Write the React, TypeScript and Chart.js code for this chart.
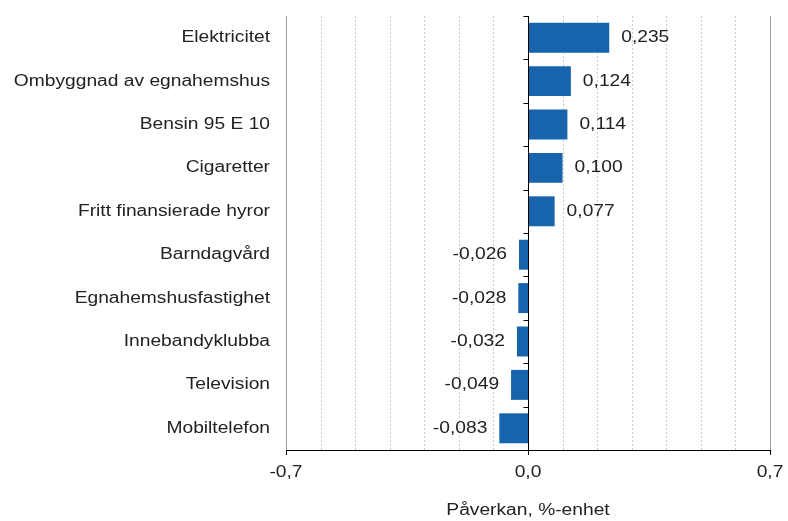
import React, { useEffect, useRef } from "react";
import { Chart, registerables } from "chart.js";

Chart.register(...registerables);

const categories = [
  "Elektricitet",
  "Ombyggnad av egnahemshus",
  "Bensin 95 E 10",
  "Cigaretter",
  "Fritt finansierade hyror",
  "Barndagvård",
  "Egnahemshusfastighet",
  "Innebandyklubba",
  "Television",
  "Mobiltelefon",
];
const values = [0.235, 0.124, 0.114, 0.1, 0.077, -0.026, -0.028, -0.032, -0.049, -0.083];
const axisMin = -0.7;
const axisMax = 0.7;
const axisStep = 0.1;
const labeledTicks = [-0.7, 0, 0.7];
const axisTitle = "Påverkan, %-enhet";

const FONT = "'Liberation Sans', Arial, sans-serif";
const TEXT = "#222222";
const BAR = "#1764ad";
const SX = 1.2; // horizontal text stretch, as in the reference

const fmt = (v: number, d: number) => v.toFixed(d).replace(".", ",").replace(/^-0,0+$/, "0,0");
const isLabeled = (v: number) => labeledTicks.some((t) => Math.abs(t - v) < 1e-9);

function stretchText(ctx: any) {
  if (ctx.__stretched) return;
  ctx.__stretched = true;
  const origFill = ctx.fillText.bind(ctx);
  const origMeasure = ctx.measureText.bind(ctx);
  ctx.fillText = function (text: string, x: number, y: number, maxWidth?: number) {
    ctx.save();
    ctx.translate(x, y);
    ctx.scale(SX, 1);
    if (maxWidth !== undefined) origFill(text, 0, 0, maxWidth / SX);
    else origFill(text, 0, 0);
    ctx.restore();
  };
  ctx.measureText = function (text: string) {
    const m = origMeasure(text);
    return {
      width: m.width * SX,
      actualBoundingBoxLeft: m.actualBoundingBoxLeft * SX,
      actualBoundingBoxRight: m.actualBoundingBoxRight * SX,
      actualBoundingBoxAscent: m.actualBoundingBoxAscent,
      actualBoundingBoxDescent: m.actualBoundingBoxDescent,
      fontBoundingBoxAscent: m.fontBoundingBoxAscent,
      fontBoundingBoxDescent: m.fontBoundingBoxDescent,
    };
  };
}

const zeroPad = (s: any) => {
  s.paddingLeft = 0;
  s.paddingRight = 0;
  s.paddingTop = 0;
  s.paddingBottom = 0;
};

const decor = {
  id: "decor",
  beforeDatasetsDraw(chart: any) {
    const { ctx, chartArea: a, scales } = chart;
    const x = scales.x;
    ctx.save();
    ctx.lineWidth = 1;
    x.ticks.forEach((t: any) => {
      const v = t.value;
      if (Math.abs(v) < 1e-9) return;
      const px = Math.round(x.getPixelForValue(v)) + 0.5;
      if (Math.abs(Math.abs(v) - axisMax) < 1e-9) {
        ctx.setLineDash([]);
        ctx.strokeStyle = "#9a9a9a";
      } else {
        ctx.setLineDash([2, 2]);
        ctx.strokeStyle = "#cccccc";
      }
      ctx.beginPath();
      ctx.moveTo(px, a.top);
      ctx.lineTo(px, a.bottom);
      ctx.stroke();
    });
    ctx.restore();
  },
  afterDatasetsDraw(chart: any) {
    const { ctx, chartArea: a, scales } = chart;
    const x = scales.x;
    const y = scales.y;
    ctx.save();
    ctx.setLineDash([]);
    ctx.strokeStyle = "#000000";
    ctx.lineWidth = 1;
    const zx = Math.round(x.getPixelForValue(0)) + 0.5;
    ctx.beginPath();
    ctx.moveTo(zx, a.top);
    ctx.lineTo(zx, a.bottom);
    ctx.stroke();
    for (let i = 0; i < categories.length; i++) {
      const yb = Math.round(y.getPixelForValue(i - 0.5)) + 0.5;
      ctx.beginPath();
      ctx.moveTo(zx - 5, yb);
      ctx.lineTo(zx, yb);
      ctx.stroke();
    }
    labeledTicks.forEach((v) => {
      const px = Math.round(x.getPixelForValue(v)) + 0.5;
      ctx.beginPath();
      ctx.moveTo(px, a.bottom);
      ctx.lineTo(px, a.bottom + 5);
      ctx.stroke();
    });
    ctx.font = `16px ${FONT}`;
    ctx.fillStyle = TEXT;
    ctx.textBaseline = "middle";
    const meta = chart.getDatasetMeta(0);
    meta.data.forEach((bar: any, i: number) => {
      const v = values[i];
      const txt = fmt(v, 3);
      if (v >= 0) {
        ctx.textAlign = "left";
        ctx.fillText(txt, bar.x + 12, bar.y);
      } else {
        ctx.textAlign = "right";
        ctx.fillText(txt, bar.x - 12, bar.y);
      }
    });
    ctx.restore();
  },
};

export default function App() {
  const ref = useRef<HTMLCanvasElement | null>(null);
  useEffect(() => {
    if (!ref.current) return;
    stretchText(ref.current.getContext("2d"));
    const chart = new Chart(ref.current, {
      type: "bar",
      data: {
        labels: categories,
        datasets: [
          {
            data: values,
            backgroundColor: BAR,
            borderWidth: 0,
            barPercentage: 0.69,
            categoryPercentage: 1,
          },
        ],
      },
      options: {
        indexAxis: "y",
        animation: false,
        responsive: false,
        devicePixelRatio: 1,
        layout: { padding: { top: 16, right: 18, left: 0, bottom: 0 } },
        plugins: {
          legend: { display: false },
          tooltip: { enabled: false },
        },
        scales: {
          x: {
            type: "linear",
            min: axisMin,
            max: axisMax,
            grid: { display: false, drawTicks: false },
            border: { display: true, color: "#000000", width: 1 },
            ticks: {
              stepSize: axisStep,
              autoSkip: false,
              maxRotation: 0,
              padding: 13,
              color: TEXT,
              font: { family: FONT, size: 16 },
              callback: (v: any) => (isLabeled(Number(v)) ? fmt(Number(v), 1) : ""),
            },
            title: {
              display: true,
              text: axisTitle,
              color: TEXT,
              font: { family: FONT, size: 16 },
              padding: { top: 0, bottom: 1 },
            },
            afterFit: (s: any) => {
              s.height = 71;
              zeroPad(s);
            },
          },
          y: {
            grid: { display: false, drawTicks: false },
            border: { display: true, color: "#8c8c8c", width: 1 },
            ticks: {
              padding: 16,
              color: TEXT,
              font: { family: FONT, size: 16 },
            },
            afterFit: (s: any) => {
              s.width = 286;
              zeroPad(s);
            },
          },
        },
      },
      plugins: [decor],
    } as any);
    return () => chart.destroy();
  }, []);
  return (
    <div style={{ position: "absolute", left: 0, top: 0, width: 788, height: 521, background: "#fff" }}>
      <canvas ref={ref} width={788} height={521} style={{ width: 788, height: 521, display: "block" }} />
    </div>
  );
}
